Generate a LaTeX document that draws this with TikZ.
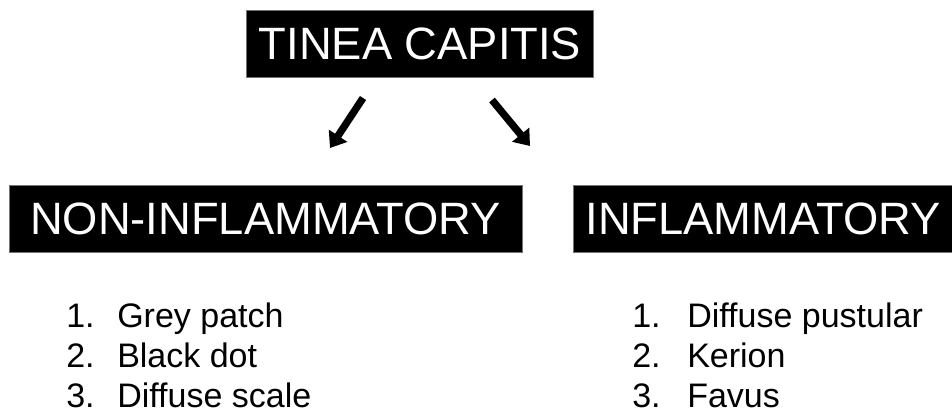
\documentclass[tikz,border=0pt]{standalone}
\usepackage{fontspec}
\setmainfont{Liberation Sans}
\usetikzlibrary{arrows.meta}

\begin{document}
\begin{tikzpicture}[
    x=0.75pt, y=-0.75pt,
    head/.style={rectangle, draw=black!55, fill=black, text=white, inner sep=0pt, minimum height=50.25pt, font=\fontsize{34}{40}\selectfont},
    item/.style={anchor=base west, inner sep=0pt, font=\fontsize{25.5}{30}\selectfont},
    arrow/.style={-{Triangle[length=11pt, width=16pt]}, line width=5.5pt, black}
]
\useasboundingbox (0,0) rectangle (952,415);

% Heads
\node[head, minimum width=260pt] (tinea) at (420,43.5) {TINEA CAPITIS};
\node[head, minimum width=384.75pt] (noninfl) at (265.5,218.5) {NON-INFLAMMATORY};
\node[head, minimum width=285pt] (infl) at (763,218.5) {INFLAMMATORY};

% Arrows
\coordinate (leftfrom) at (363,98);
\coordinate (leftto) at (330,148);
\coordinate (rightfrom) at (492,100);
\coordinate (rightto) at (530,146);
\draw[arrow] (leftfrom) -- (leftto);
\draw[arrow] (rightfrom) -- (rightto);

% Lists
\foreach \txt [count=\i] in {Grey patch, Black dot, Diffuse scale} {
    \node[item] (nonnum\i) at (66,287.5+40*\i) {\i.};
    \node[item] (nonitem\i) at (117,287.5+40*\i) {\txt};
}
\foreach \txt [count=\i] in {Diffuse pustular, Kerion, Favus} {
    \node[item] (inflnum\i) at (632,287.5+40*\i) {\i.};
    \node[item] (inflitem\i) at (687,287.5+40*\i) {\txt};
}

\end{tikzpicture}
\end{document}
